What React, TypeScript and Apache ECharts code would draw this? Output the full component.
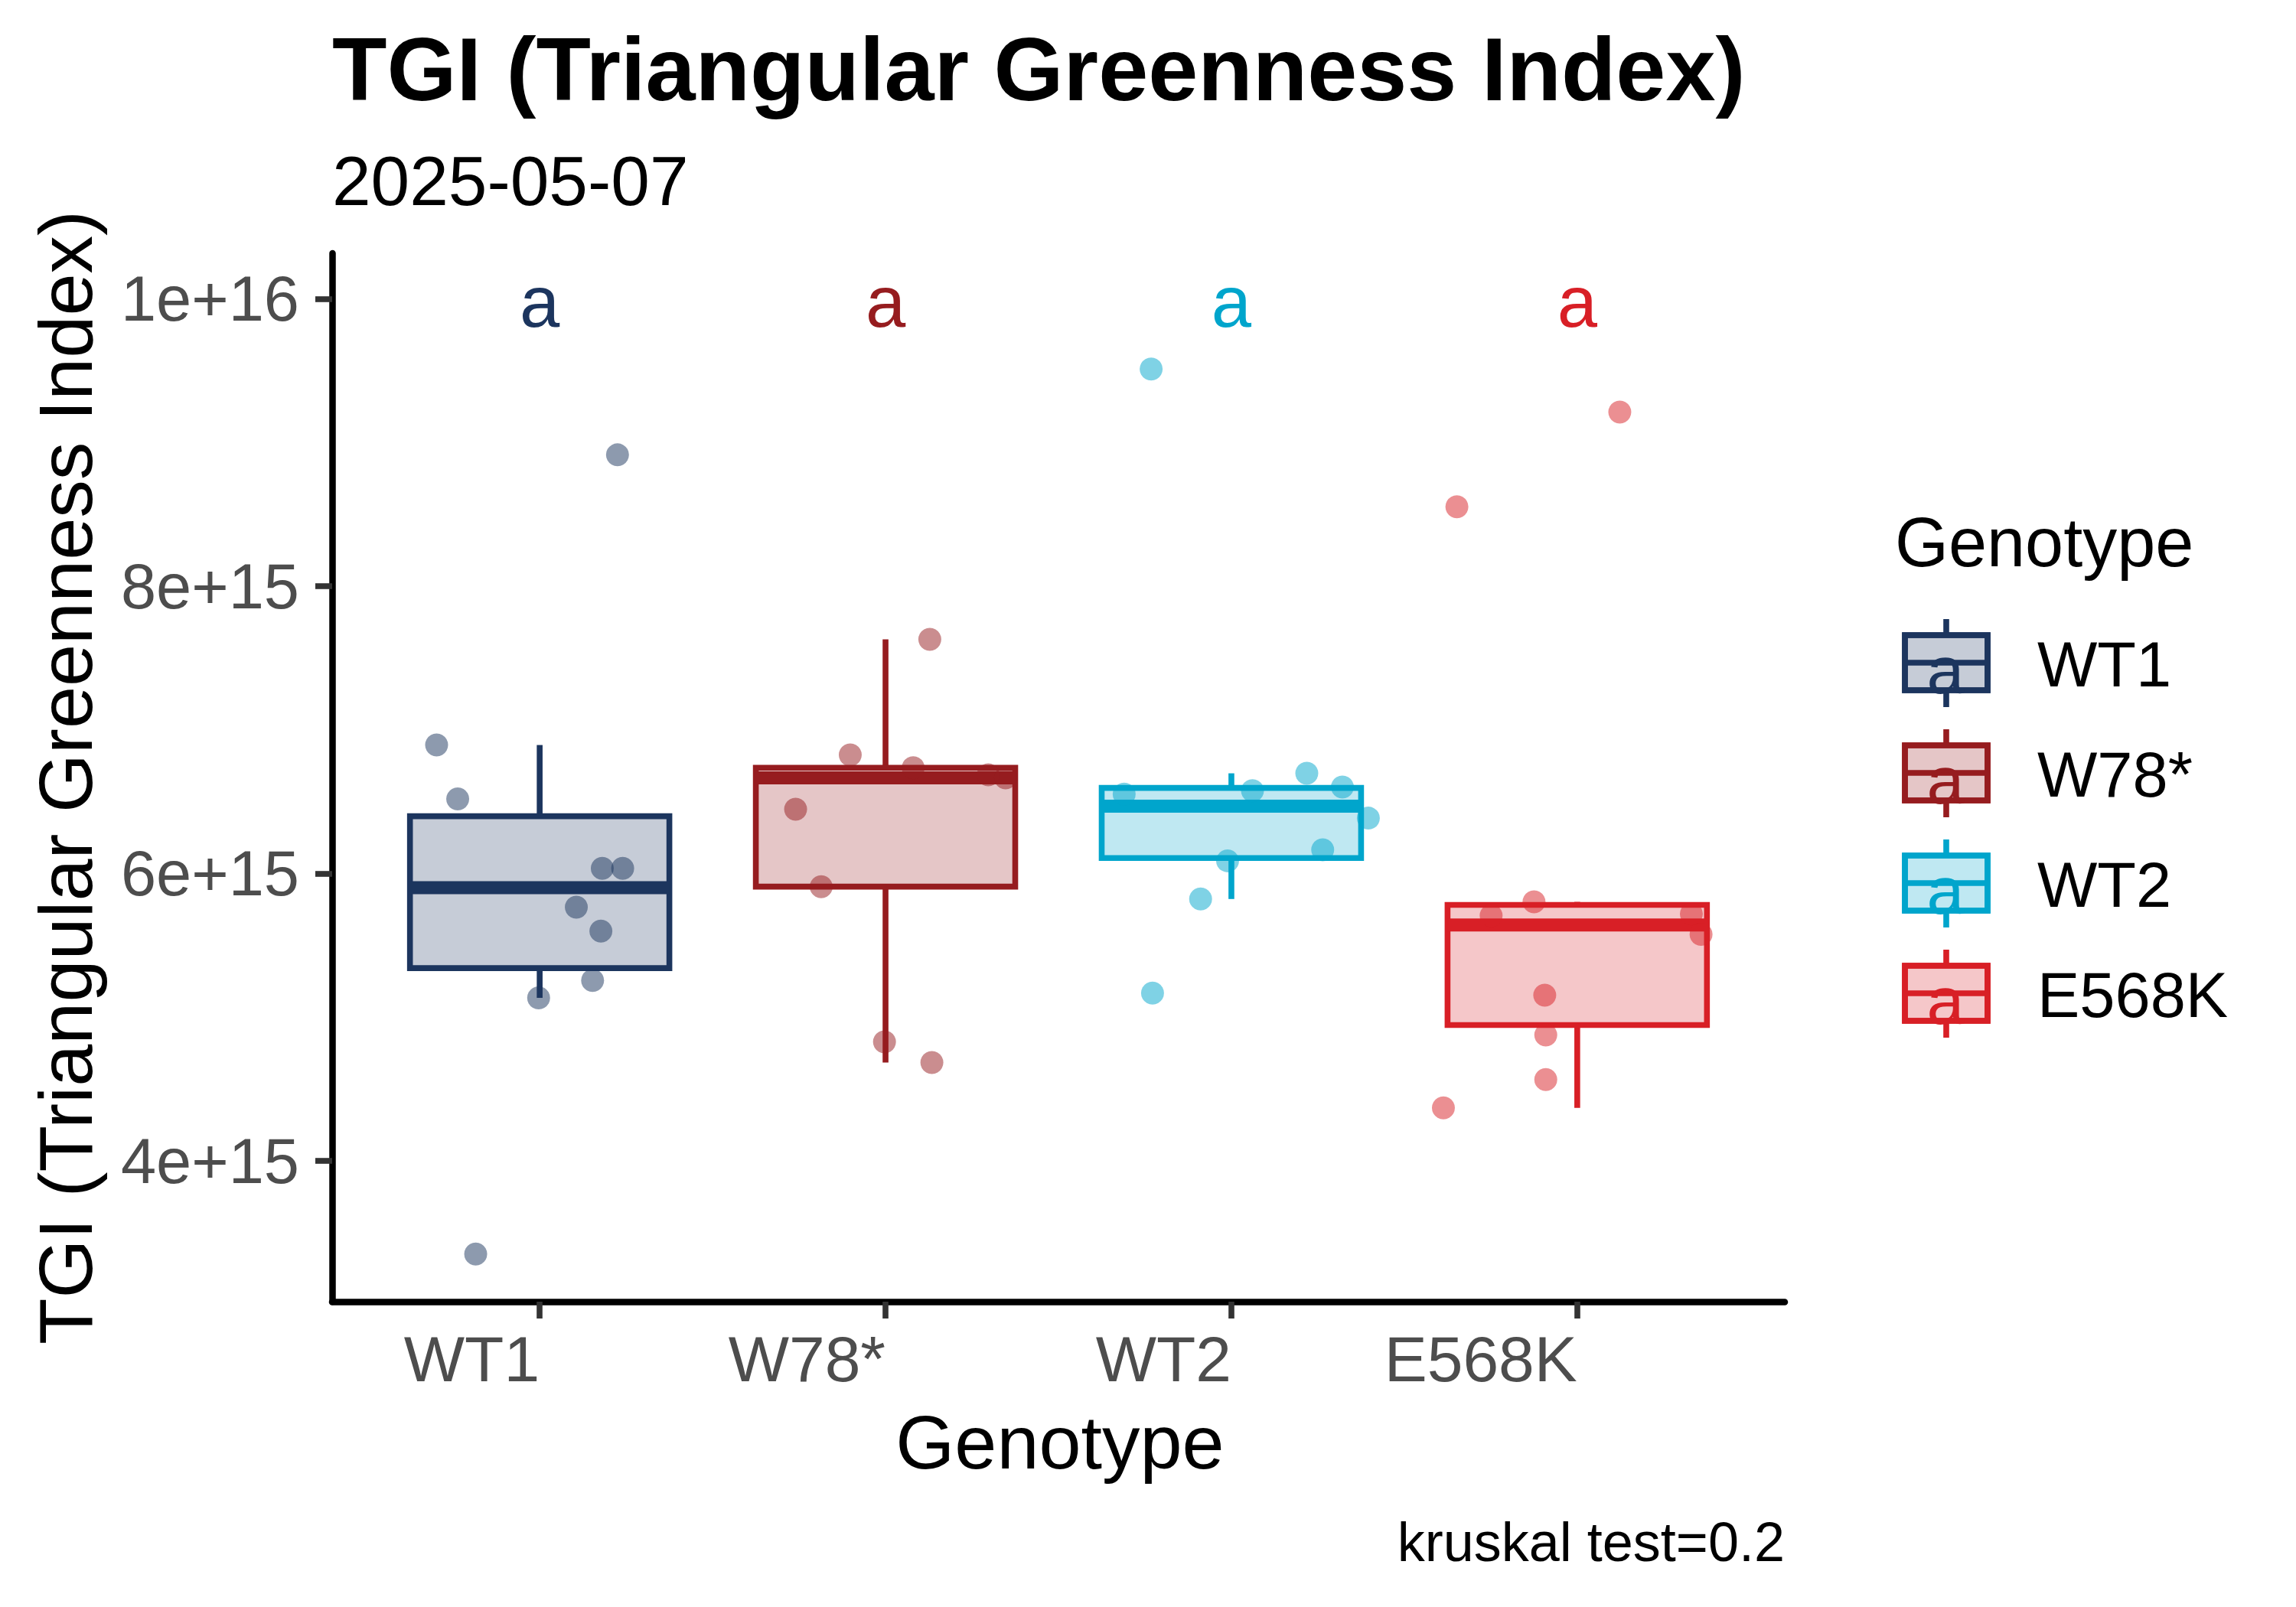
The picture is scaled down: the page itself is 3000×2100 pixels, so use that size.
import React, { useEffect, useRef } from "react";
import * as echarts from "echarts";

// ---------- data (values in units of 1e15) ----------
const categories = ["WT1", "W78*", "WT2", "E568K"];
const colors = ["#1C355E", "#961C1F", "#00A5CC", "#D81F26"];
const letters = ["a", "a", "a", "a"];
const letterValue = 10; // 1e16

const wt1Values = [6.895, 6.52, 6.037, 6.037, 5.766, 5.599, 5.256, 5.135, 3.351, 8.915];
const wt1Jitter = [-0.298, -0.237, 0.181, 0.24, 0.106, 0.177, 0.153, -0.003, -0.185, 0.225];
const w78Values = [7.631, 6.826, 6.737, 6.687, 6.666, 6.448, 5.909, 4.828, 4.685];
const w78Jitter = [0.128, -0.102, 0.08, 0.297, 0.347, -0.26, -0.186, -0.003, 0.134];
const wt2Values = [9.512, 6.698, 6.603, 6.553, 6.577, 6.386, 6.165, 6.089, 5.823, 5.168];
const wt2Jitter = [-0.232, 0.218, 0.321, -0.31, 0.061, 0.396, 0.264, -0.011, -0.089, -0.228];
const e568kValues = [9.213, 8.554, 5.803, 5.708, 5.72, 5.577, 5.154, 4.876, 4.566, 4.369];
const e568kJitter = [0.123, -0.348, -0.125, -0.249, 0.33, 0.358, -0.094, -0.091, -0.091, -0.387];

const yTicks = [4, 6, 8, 10]; // e15
const yMin = 3.02; // e15
const yMax = 10.318; // e15
const caption = "kruskal test=0.2";

const SCALE = 1e15;
const groupValues = [wt1Values, w78Values, wt2Values, e568kValues];
const groupJitter = [wt1Jitter, w78Jitter, wt2Jitter, e568kJitter];

function quantile(sorted: number[], p: number) {
  const h = (sorted.length - 1) * p;
  const lo = Math.floor(h);
  const hi = Math.ceil(h);
  return sorted[lo] + (h - lo) * (sorted[hi] - sorted[lo]);
}
function boxStats(vals: number[]) {
  const s = [...vals].sort((a, b) => a - b);
  const q1 = quantile(s, 0.25);
  const med = quantile(s, 0.5);
  const q3 = quantile(s, 0.75);
  const iqr = q3 - q1;
  const lo = Math.min(...s.filter((v) => v >= q1 - 1.5 * iqr));
  const hi = Math.max(...s.filter((v) => v <= q3 + 1.5 * iqr));
  return [lo, q1, med, q3, hi];
}
function sci(v: number) {
  const e = Math.floor(Math.log10(v) + 1e-9);
  const m = Math.round((v / Math.pow(10, e)) * 100) / 100;
  return `${m}e+${e}`;
}
function alpha(hex: string, a: number) {
  const n = parseInt(hex.slice(1), 16);
  return `rgba(${(n >> 16) & 255},${(n >> 8) & 255},${n & 255},${a})`;
}

const FONT = "Liberation Sans, Arial, sans-serif";

export default function App() {
  const ref = useRef<HTMLDivElement>(null);
  useEffect(() => {
    const chart = echarts.init(ref.current!, null, { renderer: "svg" });

    const boxData = groupValues.map((vals, i) => [i, ...boxStats(vals).map((v) => v * SCALE)]);
    const scatterSeries = groupValues.map((vals, i) => ({
      type: "scatter",
      name: categories[i],
      xAxisIndex: 0,
      yAxisIndex: 0,
      symbolSize: 30,
      silent: true,
      itemStyle: { color: colors[i], opacity: 0.5 },
      data: vals.map((v, k) => [i + groupJitter[i][k], v * SCALE]),
      z: 3,
    }));

    const rowCenters = [866, 1010, 1154, 1298];
    const legendGraphics: any[] = [
      {
        type: "text",
        x: 2476,
        y: 709,
        style: { text: "Genotype", font: `90px ${FONT}`, fill: "#000", align: "left", verticalAlign: "middle" },
      },
    ];
    categories.forEach((c, i) => {
      const yc = rowCenters[i];
      legendGraphics.push(
        { type: "line", shape: { x1: 2543, y1: yc - 57, x2: 2543, y2: yc + 58 }, style: { stroke: colors[i], lineWidth: 7.6 } },
        {
          type: "rect",
          shape: { x: 2489, y: yc - 36, width: 108, height: 72 },
          style: { fill: "#fff", stroke: colors[i], lineWidth: 7.6, lineJoin: "miter" },
        },
        {
          type: "rect",
          shape: { x: 2489, y: yc - 36, width: 108, height: 72 },
          style: { fill: alpha(colors[i], 0.25), stroke: colors[i], lineWidth: 7.6, lineJoin: "miter" },
        },
        { type: "line", shape: { x1: 2489, y1: yc, x2: 2597, y2: yc }, style: { stroke: colors[i], lineWidth: 7.6 } },
        {
          type: "text",
          x: 2542,
          y: yc + 9,
          style: { text: letters[i], font: `88px ${FONT}`, fill: colors[i], align: "center", verticalAlign: "middle" },
        },
        {
          type: "text",
          x: 2662,
          y: yc + 2,
          style: { text: c, font: `83px ${FONT}`, fill: "#000", align: "left", verticalAlign: "middle" },
        }
      );
    });

    const option: any = {
      animation: false,
      backgroundColor: "#fff",
      textStyle: { fontFamily: FONT },
      grid: { left: 434, top: 331, width: 1898, height: 1370, containLabel: false },
      xAxis: {
        type: "value",
        min: -0.6,
        max: 3.6,
        splitLine: { show: false },
        axisLine: { show: true, onZero: false, lineStyle: { color: "#000", width: 8.5 } },
        axisTick: { show: true, length: 22, customValues: [0, 1, 2, 3], lineStyle: { color: "#333333", width: 7.6 } },
        axisLabel: {
          show: true,
          customValues: [0, 1, 2, 3],
          formatter: (v: number) => categories[Math.round(v)],
          fontSize: 84,
          lineHeight: 84,
          color: "#4D4D4D",
          fontFamily: FONT,
          align: "right",
          margin: 33,
        },
      },
      yAxis: {
        type: "value",
        min: yMin * SCALE,
        max: yMax * SCALE,
        splitLine: { show: false },
        axisLine: { show: true, onZero: false, lineStyle: { color: "#000", width: 8.5 } },
        axisTick: { show: true, length: 22, customValues: yTicks.map((t) => t * SCALE), lineStyle: { color: "#333333", width: 7.6 } },
        axisLabel: {
          show: true,
          customValues: yTicks.map((t) => t * SCALE),
          formatter: (v: number) => sci(v),
          fontSize: 83,
          color: "#4D4D4D",
          fontFamily: FONT,
          margin: 43,
        },
      },
      series: [
        {
          type: "custom",
          name: "box",
          silent: true,
          clip: false,
          z: 2,
          data: boxData,
          renderItem: (params: any, api: any) => {
            const x = api.value(0);
            const lo = api.coord([x, api.value(1)]);
            const q1 = api.coord([x, api.value(2)]);
            const med = api.coord([x, api.value(3)]);
            const q3 = api.coord([x, api.value(4)]);
            const hi = api.coord([x, api.value(5)]);
            const halfW = api.size([0.75, 0])[0] / 2;
            const col = colors[params.dataIndex];
            return {
              type: "group",
              children: [
                { type: "line", shape: { x1: lo[0], y1: lo[1], x2: q1[0], y2: q1[1] }, style: { stroke: col, lineWidth: 7.6 } },
                { type: "line", shape: { x1: q3[0], y1: q3[1], x2: hi[0], y2: hi[1] }, style: { stroke: col, lineWidth: 7.6 } },
                {
                  type: "rect",
                  shape: { x: q1[0] - halfW, y: q3[1], width: 2 * halfW, height: q1[1] - q3[1] },
                  style: { fill: alpha(col, 0.25), stroke: col, lineWidth: 7.6, lineJoin: "miter" },
                },
                {
                  type: "line",
                  shape: { x1: med[0] - halfW, y1: med[1], x2: med[0] + halfW, y2: med[1] },
                  style: { stroke: col, lineWidth: 17 },
                },
              ],
            };
          },
        },
        ...scatterSeries,
        {
          type: "custom",
          name: "letters",
          silent: true,
          clip: false,
          z: 4,
          data: categories.map((_, i) => [i, letterValue * SCALE]),
          renderItem: (params: any, api: any) => {
            const p = api.coord([api.value(0), api.value(1)]);
            return {
              type: "text",
              x: p[0],
              y: p[1] + 4,
              style: {
                text: letters[params.dataIndex],
                font: `94px ${FONT}`,
                fill: colors[params.dataIndex],
                align: "center",
                verticalAlign: "middle",
              },
            };
          },
        },
      ],
      graphic: [
        {
          type: "text",
          x: 434,
          y: 90,
          style: { text: "TGI (Triangular Greenness Index)", font: `bold 117px ${FONT}`, fill: "#000", align: "left", verticalAlign: "middle" },
        },
        {
          type: "text",
          x: 434,
          y: 236,
          style: { text: "2025-05-07", font: `91px ${FONT}`, fill: "#000", align: "left", verticalAlign: "middle" },
        },
        {
          type: "text",
          x: 1385,
          y: 1884,
          style: { text: "Genotype", font: `99px ${FONT}`, fill: "#000", align: "center", verticalAlign: "middle" },
        },
        {
          type: "text",
          x: 85,
          y: 1016,
          rotation: Math.PI / 2,
          style: { text: "TGI (Triangular Greenness Index)", font: `99px ${FONT}`, fill: "#000", align: "center", verticalAlign: "middle" },
        },
        {
          type: "text",
          x: 2332,
          y: 2015,
          style: { text: caption, font: `72px ${FONT}`, fill: "#000", align: "right", verticalAlign: "middle" },
        },
        ...legendGraphics,
      ],
    };
    chart.setOption(option);
    return () => chart.dispose();
  }, []);
  return <div ref={ref} style={{ position: "fixed", left: 0, top: 0, width: 3000, height: 2100, background: "#fff" }} />;
}
